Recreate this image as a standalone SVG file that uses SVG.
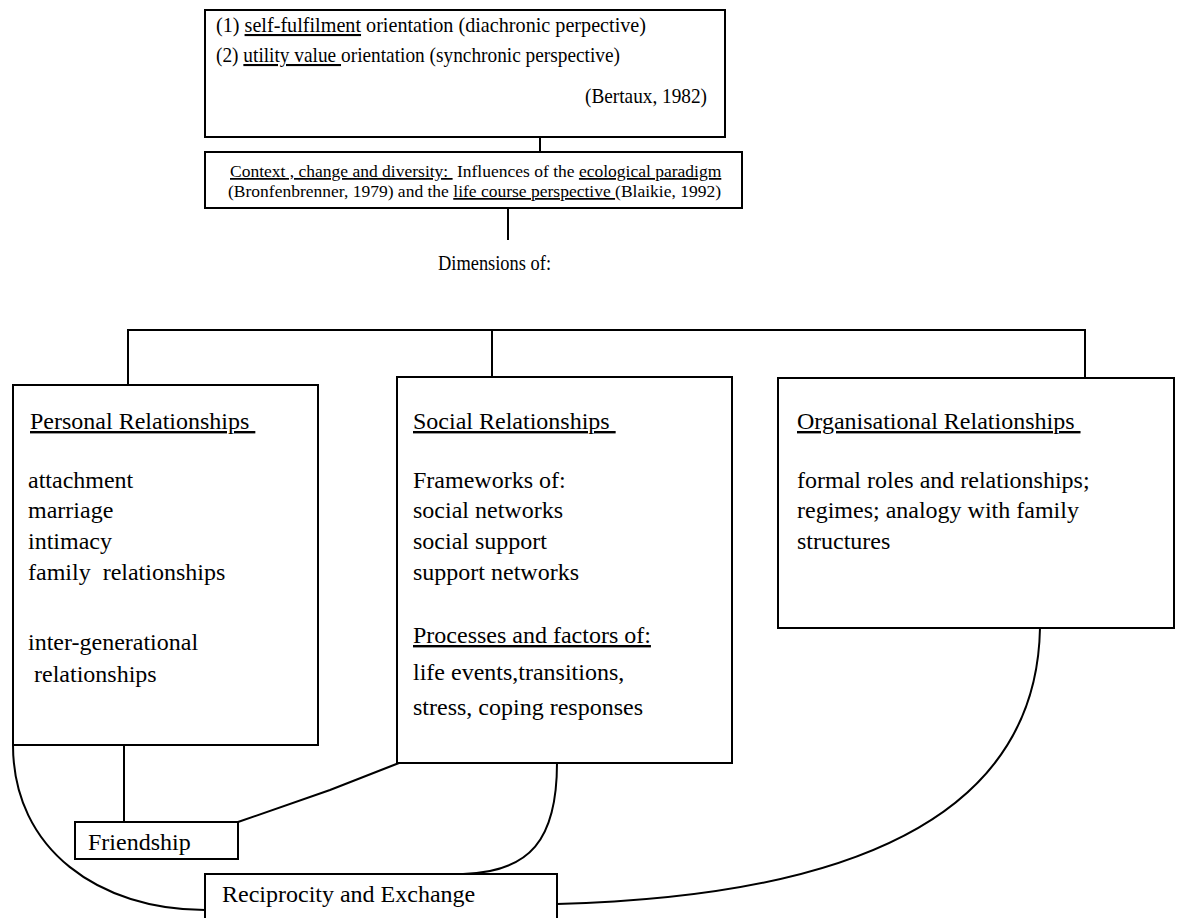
<svg xmlns="http://www.w3.org/2000/svg" width="1180" height="918" viewBox="0 0 1180 918">
  <style>
    .box { fill: #ffffff; stroke: #000000; stroke-width: 2; }
    .wire { fill: none; stroke: #000000; stroke-width: 2; }
    text { font-family: "Liberation Serif", "Times New Roman", serif; font-size: 24px; fill: #000000; }
    .top { font-size: 21px; }
    .ctx { font-size: 17.5px; }
    .dim { font-size: 20px; }
    .u { text-decoration: underline; }
  </style>
  <rect width="1180" height="918" fill="#ffffff"/>

  <!-- connectors -->
  <g id="connectors">
    <line class="wire" x1="540" y1="137" x2="540" y2="152"/>
    <line class="wire" x1="508" y1="208" x2="508" y2="240"/>
    <polyline class="wire" points="128,385 128,330 1085,330 1085,378"/>
    <line class="wire" x1="492" y1="330" x2="492" y2="377"/>
    <line class="wire" x1="124" y1="745" x2="124" y2="822"/>
    <path class="wire" d="M238,822 L330,790 L399,763"/>
    <path class="wire" d="M13,745 C13,850 100,910 205,910"/>
    <path class="wire" d="M557,763 C557,840 530,872 463,874"/>
    <path class="wire" d="M1040,628 C1037,790 900,895 557,904"/>
  </g>

  <!-- orientations -->
  <g id="orientations">
    <rect class="box" x="205" y="10" width="520" height="127"/>
    <text class="top" x="216" y="32" textLength="430" lengthAdjust="spacingAndGlyphs" xml:space="preserve">(1) <tspan class="u">self-fulfilment</tspan> orientation (diachronic perpective)</text>
    <text class="top" x="216" y="62" textLength="404" lengthAdjust="spacingAndGlyphs" xml:space="preserve">(2) <tspan class="u">utility value </tspan>orientation (synchronic perspective)</text>
    <text class="top" x="585" y="103" textLength="122" lengthAdjust="spacingAndGlyphs">(Bertaux, 1982)</text>
  </g>

  <!-- context -->
  <g id="context">
    <rect class="box" x="205" y="152" width="537" height="56"/>
    <text class="ctx" x="230" y="177" xml:space="preserve"><tspan class="u">Context , change and diversity: </tspan> Influences of the <tspan class="u">ecological paradigm</tspan></text>
    <text class="ctx" x="228" y="197" xml:space="preserve">(Bronfenbrenner, 1979) and the <tspan class="u">life course perspective </tspan>(Blaikie, 1992)</text>
  </g>

  <!-- dimensions label -->
  <g id="dimensions">
    <text class="dim" x="438" y="270" textLength="113" lengthAdjust="spacingAndGlyphs">Dimensions of:</text>
  </g>

  <!-- personal relationships -->
  <g id="personal">
    <rect class="box" x="13" y="385" width="305" height="360"/>
    <text x="30" y="429" xml:space="preserve"><tspan class="u">Personal Relationships </tspan></text>
    <text x="28" y="488">attachment</text>
    <text x="28" y="518">marriage</text>
    <text x="28" y="549">intimacy</text>
    <text x="28" y="580" xml:space="preserve">family  relationships</text>
    <text x="28" y="650">inter-generational</text>
    <text x="28" y="682" xml:space="preserve"> relationships</text>
  </g>

  <!-- social relationships -->
  <g id="social">
    <rect class="box" x="397" y="377" width="335" height="386"/>
    <text x="413" y="429" xml:space="preserve"><tspan class="u">Social Relationships </tspan></text>
    <text x="413" y="488">Frameworks of:</text>
    <text x="413" y="518">social networks</text>
    <text x="413" y="549">social support</text>
    <text x="413" y="580">support networks</text>
    <text x="413" y="643"><tspan class="u">Processes and factors of:</tspan></text>
    <text x="413" y="680">life events,transitions,</text>
    <text x="413" y="715">stress, coping responses</text>
  </g>

  <!-- organisational relationships -->
  <g id="organisational">
    <rect class="box" x="778" y="378" width="396" height="250"/>
    <text x="797" y="429" xml:space="preserve"><tspan class="u">Organisational Relationships </tspan></text>
    <text x="797" y="488">formal roles and relationships;</text>
    <text x="797" y="518">regimes; analogy with family</text>
    <text x="797" y="549">structures</text>
  </g>

  <!-- friendship -->
  <g id="friendship">
    <rect class="box" x="75" y="822" width="163" height="37"/>
    <text x="88" y="850">Friendship</text>
  </g>

  <!-- reciprocity and exchange -->
  <g id="reciprocity">
    <rect class="box" x="205" y="874" width="352" height="56"/>
    <text x="222" y="902">Reciprocity and Exchange</text>
  </g>
</svg>
